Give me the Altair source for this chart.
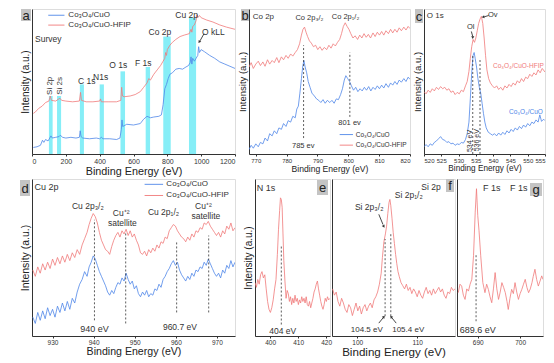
import altair as alt
import pandas as pd

BLUE = "#4f87e8"
RED = "#f07a7a"
INK = "#333333"
CYAN = "#86eef7"
GRAY = "#c4c4c4"
FONT = "Liberation Sans"

# ---------------- panel a : survey (eV, intensity 0-100) ----------------
A_BLUE = [(8,4.5),(30,5),(50,6),(62,9.5),(70,8),(80,10),(95,9),(105,11),(112,12.5),(120,11),
          (140,11.5),(160,12),(168,13),(180,11.5),(200,11),(230,11.5),(260,11),(280,11.5),(285,16),(290,12),
          (300,11),(340,10.5),(380,11),(400,10.5),(410,11.5),(420,10.5),(460,10.5),(500,10),(520,11),(528,17),
          (532,23.5),(536,19),(545,19.5),(560,20.5),(600,20),(640,21),(660,24),(680,26),(700,25),(720,25.5),
          (750,26),(765,27),(775,34),(785,45),(795,48),(805,52),(815,55),(830,56),(850,58.5),(870,59),
          (890,58.5),(910,60),(925,61),(935,63),(940,67),(945,62),(950,66),(960,64),(970,66),(980,68),
          (985,74),(990,70),(1000,72),(1020,70.5),(1050,68),(1080,66),(1110,63.5),(1140,62),(1170,60.5),(1200,59)]
A_RED = [(8,28),(20,29),(40,31.5),(60,33),(80,35.5),(100,36.5),(108,40),(115,37),(140,36.5),(165,38.5),
         (175,37),(200,36.5),(240,36),(280,36.5),(287,42.5),(292,37),(320,36),(360,36),(400,36.5),(405,38),
         (410,36),(450,36),(500,36),(525,37),(530,46),(535,40),(545,39.5),(580,40),(610,41),(640,43),
         (660,46),(680,49),(690,52),(700,51),(720,55),(740,58),(760,61),(775,64),(785,66),(790,70),
         (795,68),(800,72),(815,75),(830,77),(850,79),(875,81),(900,82),(930,83),(940,86),(945,84),
         (950,88),(960,89),(970,92),(975,96),(980,94),(990,95.5),(1000,94),(1030,92.5),(1070,91),(1110,89),
         (1150,87.5),(1200,86)]
A_BANDS = [(100,122,40),(148,172,40),(283,307,48),(400,425,48),(523,550,57),(672,698,60),(776,820,81),(928,970,94)]
A_LABELS = [("Si 2p",106,47,8,INK,270),("Si 2s",163,47,8,INK,270),("C 1s",323,50.3,8.5,INK,0),
            ("N1s",406,53,8.5,INK,0),("O 1s",510,61.4,8.5,INK,0),("F 1s",658,62.6,8.5,INK,0),
            ("Co 2p",756,84.1,8.5,INK,0),("Cu 2p",914,95.7,8.5,INK,0),("O kLL",1072,84.1,8.5,INK,0)]
A_LEFT = [("Survey",18,79,8.5,INK,0),("Co₃O₄/CuO",215,95.7,8,INK,0),("Co₃O₄/CuO-HFIP",215,88.9,8,INK,0)]
A_SEGS = [(96,95.7,192,95.7,BLUE),(96,88.9,192,88.9,RED),(1017,83,993,78,INK)]
A_HEADS = [(990,77.5,215)]

# ---------------- panel b : Co 2p ----------------
B_RED = [(767.8,60),(768.5,63),(769.2,59),(770,62),(770.8,64),(771.5,61),(772.3,63.5),(773,60.5),(773.8,65),(774.5,62),
         (775.3,64.5),(776,63),(776.8,66.5),(777.5,63),(778.3,67),(779,65),(779.8,68),(780.5,66),(781.3,69),(782,67.5),
         (782.8,70),(783.5,72),(784.2,76),(784.8,82),(785.3,86),(785.8,87.5),(786.3,84),(786.8,81),(787.4,78),(788,76.5),
         (788.7,74),(789.4,75),(790.1,72),(790.8,74),(791.5,71.5),(792.2,73.5),(793,72),(793.7,75),(794.4,73),(795.1,76),
         (795.8,74.5),(796.5,77),(797.2,79),(797.8,83),(798.4,88),(799,90.5),(799.6,88),(800.2,86),(800.8,83),(801.5,80),
         (802.2,81.5),(803,79),(803.7,82),(804.4,80),(805.1,83),(805.8,80.5),(806.5,82.5),(807.2,80),(808,83.5),(808.7,81),
         (809.4,84),(810.1,82),(810.8,84.5),(811.5,82),(812.2,85),(813,83),(813.7,86),(814.4,83.5),(815.1,86),(815.8,84),
         (816.5,87),(817.2,85),(818,87.5),(818.7,85.5),(819.4,88),(820,86.5)]
B_BLUE = [(767.8,3),(768.5,6),(769.2,4),(770,7),(770.8,5),(771.5,8),(772.3,7),(773,11),(773.8,9),(774.5,14),
          (775.3,12.5),(776,16),(776.8,14),(777.5,18),(778.3,17),(779,21),(779.8,19),(780.5,23),(781.3,22),(782,26),
          (782.8,25),(783.3,31),(783.8,33),(784.3,42),(784.8,52),(785.2,60),(785.6,64.5),(786,60),(786.5,56),(787,50),
          (787.6,46),(788.2,42),(789,40),(789.7,38),(790.4,37),(791.1,35.5),(791.8,37.5),(792.5,35),(793.2,37),(794,35.5),
          (794.7,37),(795.4,35),(796.1,38),(796.8,37.5),(797.5,41),(798.1,45),(798.7,51),(799.2,54),(799.8,52),(800.4,50),
          (801,47),(801.7,44),(802.4,46),(803.1,43),(803.8,45),(804.5,43.5),(805.2,46),(805.9,44),(806.6,46.5),(807.3,43.5),
          (808,46),(808.7,44.5),(809.4,47),(810.1,45),(810.8,47.5),(811.5,45.5),(812.2,48.5),(813,46),(813.7,49),(814.4,47.5),
          (815.1,50),(815.8,48),(816.5,51),(817.2,49.5),(818,52),(818.7,50),(819.4,53),(820,51.5)]
B_LABELS = [("Co 2p₃/₂",787.4,93.9,7.5,INK,0),("Co 2p₁/₂",799.1,94.6,7.5,INK,0),
            ("785 ev",785.4,5.4,7.5,INK,0),("801 ev",800.4,21.3,7.5,INK,0)]
B_LEFT = [("Co 2p",769,94.6,8,INK,0),("Co₃O₄/CuO",802.4,13.4,6.5,INK,0),("Co₃O₄/CuO-HFIP",802.4,6.1,6.5,INK,0)]
B_SEGS = [(797.2,13.4,801.5,13.4,BLUE),(797.2,6.1,801.5,6.1,RED)]
B_DASH = [(785.5,11,75),(800.5,25.6,70)]

# ---------------- panel c : O 1s ----------------
C_RED = [(520,43),(520.6,41.5),(521.2,44),(521.8,42.5),(522.4,45),(523,43.5),(523.6,46),(524.2,44.5),(524.8,46.5),(525.4,45),
         (526,46),(526.6,44),(527.2,45),(527.8,42.5),(528.4,43.5),(529,41),(529.6,42.5),(530.2,41.5),(530.8,44),(531.4,43),
         (532,47),(532.5,50),(533,57),(533.4,66),(533.8,74),(534.2,79),(534.6,77),(535,80),(535.4,85),(535.8,90),
         (536.2,93),(536.6,95),(537,90),(537.4,80),(537.8,68),(538.2,58),(538.7,52),(539.2,49),(539.8,47),(540.4,45.5),
         (541,47),(541.6,44.5),(542.2,46),(542.8,44),(543.4,47),(544,45.5),(544.6,48),(545.2,46.5),(545.8,49),(546.4,47.5),
         (547,50.5),(547.6,49),(548.2,52),(548.8,50),(549.4,53),(550,52),(550.6,55),(551.2,53.5),(551.8,56),(552.4,54.5),
         (553,58),(553.6,56),(554.2,59),(555,56.5)]
C_BLUE = [(520,5),(520.6,6.5),(521.2,5),(521.8,7),(522.4,6),(523,8),(523.6,9),(524.2,10.5),(524.8,12),(525.4,10),
          (526,9.5),(526.6,8),(527.2,8.5),(527.8,7),(528.4,7.5),(529,6),(529.6,7),(530.2,6.5),(530.8,8),(531.4,7.5),
          (532,10),(532.5,14),(533,22),(533.4,38),(533.8,56),(534.2,68),(534.5,70),(534.8,66),(535.2,60),(535.6,52),
          (536,46),(536.4,42),(536.8,35),(537.2,28),(537.6,22),(538,18),(538.6,15),(539.2,14),(539.8,13),(540.4,14),
          (541,12.5),(541.6,14.5),(542.2,13),(542.8,15),(543.4,13.5),(544,16),(544.6,14.5),(545.2,17),(545.8,15.5),(546.4,18),
          (547,16.5),(547.6,19),(548.2,17.5),(548.8,20),(549.4,18.5),(550,21),(550.6,19.5),(551.2,22),(551.8,21),(552.4,23.5),
          (553,22),(553.5,27),(554,22.5),(554.6,24),(555,23)]
C_LABELS = [("Ol",533.5,87.8,7.5,INK,0),("Ov",539.9,96,7.5,INK,0),
            ("Co₃O₄/CuO-HFIP",547.3,61,6.5,RED,0),("Co₃O₄/CuO",549.5,29,6.5,BLUE,0),
            ("534 eV",533.3,9,7,INK,270),("536 eV",535.4,9.5,7,INK,270)]
C_LEFT = [("O 1s",520.8,95,8,INK,0)]
C_DASH = [(534.1,0,68),(536.2,0,65)]
C_SEGS = [(533.7,84.5,534.1,81,INK),(538.7,95.5,537.4,94.6,INK)]
C_HEADS = [(534.1,80.5,180),(537.2,94.5,260)]

# ---------------- panel d : Cu 2p ----------------
D_RED = [(925.2,42),(925.8,38),(926.4,44),(927,40),(927.6,46),(928.2,42),(928.8,47),(929.4,43),(930,49),(930.6,45),
         (931.2,50),(931.8,46),(932.4,51),(933,47),(933.6,52),(934.2,48),(934.8,53),(935.4,50),(936,55),(936.6,52),
         (937.2,58),(937.8,62),(938.4,66),(938.9,71),(939.4,75),(939.9,78),(940.4,76),(940.9,72),(941.4,66),(941.9,61),
         (942.4,58),(942.9,55),(943.4,54),(943.9,52),(944.4,57),(944.9,61),(945.4,64),(945.9,66),(946.4,63),(946.9,67),
         (947.4,65),(947.9,68),(948.4,64),(948.9,67),(949.4,63),(949.9,65),(950.4,61),(950.9,58),(951.4,53),(951.9,52),
         (952.4,54),(952.9,51),(953.4,55),(953.9,53),(954.4,56),(954.9,54),(955.4,58),(955.9,56),(956.4,60),(956.9,59),
         (957.4,63),(957.9,62),(958.4,67),(958.9,69),(959.4,71),(959.9,70),(960.4,67),(960.9,65),(961.4,63),(961.9,62),
         (962.4,60),(962.9,63),(963.4,61),(963.9,65),(964.4,63),(964.9,67),(965.4,66),(965.9,69),(966.4,68),(966.9,72),
         (967.4,71),(967.9,73),(968.4,70),(968.9,68),(969.4,66),(969.9,64),(970.4,66),(970.9,63),(971.4,67),(971.9,65),
         (972.4,70),(972.9,68),(973.4,72),(973.9,67),(974.4,69)]
D_BLUE = [(925.2,12),(925.8,8),(926.4,15),(927,10),(927.6,16),(928.2,11),(928.8,18),(929.4,13),(930,17),(930.6,12),
          (931.2,19),(931.8,15),(932.4,21),(933,16),(933.6,22),(934.2,17),(934.8,24),(935.4,21),(936,28),(936.6,33),
          (937.2,36),(937.8,41),(938.4,38),(938.9,44),(939.4,47),(939.9,51),(940.4,49),(940.9,45),(941.4,41),(941.9,38),
          (942.4,35),(942.9,32),(943.4,28),(943.9,26),(944.4,29),(944.9,27),(945.4,31),(945.9,34),(946.4,33),(946.9,37),
          (947.4,35),(947.9,40),(948.4,36),(948.9,33),(949.4,35),(949.9,30),(950.4,32),(950.9,27),(951.4,25),(951.9,28),
          (952.4,26),(952.9,29),(953.4,25),(953.9,27),(954.4,26),(954.9,30),(955.4,29),(955.9,33),(956.4,31),(956.9,36),
          (957.4,38),(957.9,41),(958.4,43),(958.9,46),(959.4,48),(959.9,45),(960.4,47),(960.9,42),(961.4,39),(961.9,37),
          (962.4,35),(962.9,38),(963.4,36),(963.9,40),(964.4,38),(964.9,42),(965.4,41),(965.9,44),(966.4,43),(966.9,47),
          (967.4,45),(967.9,49),(968.4,46),(968.9,43),(969.4,40),(969.9,38),(970.4,40),(970.9,37),(971.4,42),(971.9,40),
          (972.4,45),(972.9,43),(973.4,48),(973.9,44),(974.4,47)]
D_LABELS = [("Cu 2p₃/₂",938.6,82.5,8.5,INK,0),("Cu⁺²",946.7,78.2,8.5,INK,0),("satellite",947,71.8,8.5,INK,0),
            ("Cu 2p₁/₂",957,78.8,8.5,INK,0),("Cu⁺²",966.7,83.1,8.5,INK,0),("satellite",967.3,76.7,8.5,INK,0),
            ("940 eV",940.2,4.5,9,INK,0),("960.7 eV",961,5.8,8.5,INK,0)]
D_LEFT = [("Cu 2p",925.6,94.9,9,INK,0),("Co₃O₄/CuO",957.7,96.6,8,INK,0),("Co₃O₄/CuO-HFIP",957.7,89.5,8,INK,0)]
D_SEGS = [(952.4,96.6,956.9,96.6,BLUE),(952.4,89.5,956.9,89.5,RED)]
D_DASH = [(940.2,10,74),(947.8,8,66),(960.2,15,60),(968,15,64)]

# ---------------- panel e : N 1s ----------------
E_RED = [(394.6,34),(395.1,31),(395.6,36),(396.1,33),(396.6,39),(397.1,41),(397.6,37),(398.1,39),(398.6,30),(399.1,22),
         (399.6,17),(400.1,15),(400.6,18),(401.1,23),(401.6,30),(402.1,36),(402.6,52),(403,68),(403.4,80),(403.7,88),
         (404,87),(404.3,82),(404.6,65),(404.9,48),(405.3,35),(405.7,24),(406.1,29),(406.5,27),(406.9,22),(407.3,25),
         (407.7,20),(408.1,24),(408.5,21),(408.9,26),(409.3,22),(409.7,24),(410.1,20),(410.5,23),(410.9,21),(411.3,25),
         (411.7,22),(412.1,24),(412.5,21),(412.9,25),(413.3,20),(413.7,19),(414.1,22),(414.5,18),(414.9,21),(415.3,24),
         (415.7,28),(416.1,30),(416.5,33),(416.9,35),(417.3,30),(417.7,26),(418.1,22),(418.5,19),(418.9,17),(419.3,20),
         (419.7,24),(420.1,22),(420.5,25),(420.9,23),(421.4,24)]
E_LABELS = [("404 eV",404.5,3.5,8.5,INK,0)]
E_LEFT = [("N 1s",395.2,94.5,9,INK,0)]
E_DASH = [(404,7.3,57.5)]

# ---------------- panel f : Si 2p ----------------
F_RED = [(95.9,30),(96.2,26),(96.5,28),(96.8,22),(97.1,19),(97.4,24),(97.7,21),(98,17),(98.3,15),(98.6,20),
         (98.9,18),(99.2,13),(99.5,17),(99.8,21),(100.1,16),(100.4,19),(100.7,14),(101,18),(101.3,20),(101.6,16),
         (101.9,19),(102.2,21),(102.5,18),(102.8,23),(103.1,25),(103.4,28),(103.7,33),(104,40),(104.2,50),(104.45,60),
         (104.7,65),(104.9,70),(105.1,78),(105.3,85),(105.45,87),(105.6,83),(105.8,75),(106,66),(106.2,59),(106.4,52),
         (106.6,46),(106.8,41),(107,38),(107.3,34),(107.6,32),(107.9,30),(108.2,33),(108.5,29),(108.8,31),(109.1,27),
         (109.4,30),(109.7,28),(110,25),(110.3,29),(110.6,26),(110.9,24),(111.2,28),(111.5,31),(111.8,27),(112.1,29),
         (112.4,26),(112.7,30),(113,27),(113.3,29),(113.6,31),(113.9,28),(114.2,30),(114.5,26),(114.8,24),(115.1,28),
         (115.4,27),(115.7,31),(116,29),(116.3,30)]
F_LABELS = [("104.5 eV",101.6,4.1,8,INK,0),("105.4 eV",108.5,4.1,8,INK,0),("Si 2p₃/₂",102,82,8.5,INK,0),
            ("Si 2p₁/₂",108.6,89.5,8.5,INK,0),("Si 2p",112.3,95,8.5,INK,0)]
F_DASH = [(104.65,12.6,61.8),(105.6,12.6,66)]
F_SEGS = [(103.6,77.5,104.3,71,INK),(103.6,8.2,104.3,11.5,INK),(106.5,8.2,105.8,11.5,INK)]
F_HEADS = [(104.4,70,150),(104.4,12,40),(105.7,12,320)]

# ---------------- panel g : F 1s ----------------
G_RED = [(685.4,27.6),(685.8,33),(686.2,31.8),(686.6,26),(687,23.3),(687.4,30),(687.8,28.6),(688.2,33),(688.6,36.1),
         (689,51.1),(689.4,78.9),(689.7,93.8),(690,76.7),(690.3,67.1),(690.7,51.1),(691.2,34),(691.7,27.6),(692.1,33),
         (692.5,29.7),(692.9,25),(693.3,21.2),(693.7,30),(694.1,40.4),(694.5,30),(694.9,23.3),(695.3,28),(695.7,34),
         (696.1,31),(696.5,27.6),(696.9,22),(697.2,16.9),(697.6,24),(698,29.7),(698.4,27),(698.8,34),(699.2,28),
         (699.6,23.3),(700,27),(700.4,29.7),(700.8,33),(701.2,36.1),(701.6,31),(702,27.6),(702.4,30),(702.8,34),
         (703.1,38),(703.5,42.5),(703.9,36),(704.3,31.8),(704.7,35),(705.1,38.3),(705.4,36)]
G_LABELS = [("689.6 eV",690,4.1,9,INK,0),("F 1s",693.3,94.2,9,INK,0),("F 1s",699.7,94.2,9,INK,0)]
G_DASH = [(689.6,9.4,52)]

ONE = pd.DataFrame({"k": [0]})


def xenc(dom, ticks, title, tfs, lfs=6.5):
    ax = dict(values=ticks, format="d", labelFontSize=lfs, tickSize=2, labelPadding=1,
              titlePadding=1, grid=False, domainColor=INK, tickColor=INK, labelColor=INK,
              titleColor="#222222", titleFontWeight="normal", titleFontSize=tfs)
    ax["title"] = title
    return alt.X("x:Q", scale=alt.Scale(domain=dom, nice=False, zero=False), axis=alt.Axis(**ax))


def yenc(title, tfs=10):
    return alt.Y("y:Q", scale=alt.Scale(domain=[0, 100], nice=False, zero=False),
                 axis=alt.Axis(labels=False, ticks=False, grid=False, title=title, titleFontSize=tfs,
                               titlePadding=2, domainColor=INK, titleColor="#222222",
                               titleFontWeight="normal"))


def curve(pts, color, X, Y):
    df = pd.DataFrame(pts, columns=["x", "y"])
    return alt.Chart(df).mark_line(color=color, strokeWidth=0.8, clip=True).encode(x=X, y=Y)


def dashes(rows, X, Y):
    df = pd.DataFrame(rows, columns=["x", "y", "y2"])
    return alt.Chart(df).mark_rule(color=INK, strokeDash=[2, 2], strokeWidth=0.8).encode(
        x=X, y=Y, y2="y2:Q")


def texts(rows, X, Y, align="center"):
    df = pd.DataFrame(rows, columns=["t", "x", "y", "s", "c", "a"])
    return alt.Chart(df).mark_text(align=align, baseline="middle", font=FONT).encode(
        x=X, y=Y, text="t:N", size=alt.Size("s:Q", scale=None),
        color=alt.Color("c:N", scale=None), angle=alt.Angle("a:Q", scale=None))


def segs(rows, X, Y):
    df = pd.DataFrame(rows, columns=["x", "y", "x2", "y2", "c"])
    return alt.Chart(df).mark_rule(strokeWidth=0.9).encode(
        x=X, y=Y, x2="x2:Q", y2="y2:Q", color=alt.Color("c:N", scale=None))


def heads(rows, X, Y):
    df = pd.DataFrame(rows, columns=["x", "y", "a"])
    return alt.Chart(df).mark_point(shape="triangle", filled=True, size=10, color=INK, opacity=1).encode(
        x=X, y=Y, angle=alt.Angle("a:Q", scale=None))


def bands(rows, X, Y):
    df = pd.DataFrame(rows, columns=["x", "x2", "y2"])
    df["y"] = 0
    return alt.Chart(df).mark_rect(color=CYAN).encode(x=X, x2="x2:Q", y=Y, y2="y2:Q")


def tag(letter, x0, x1, y0, y1):
    box = alt.Chart(ONE).mark_rect(color=GRAY).encode(
        x=alt.value(x0), x2=alt.value(x1), y=alt.value(y0), y2=alt.value(y1))
    txt = alt.Chart(ONE).mark_text(text=letter, fontSize=13, font=FONT, color="#222222",
                                   align="center", baseline="middle").encode(
        x=alt.value((x0 + x1) / 2), y=alt.value((y0 + y1) / 2 + 0.5))
    return [box, txt]


TOP_H = 145
BOT_H = 157

# panel a
Xa = xenc([0, 1200], [0, 200, 400, 600, 800, 1000, 1200], "Binding Energy (eV)", 10.8, 7)
Ya = yenc("Intensity (a.u.)", 10)
pa = alt.layer(
    bands(A_BANDS, Xa, Ya), curve(A_BLUE, BLUE, Xa, Ya), curve(A_RED, RED, Xa, Ya),
    segs(A_SEGS, Xa, Ya), heads(A_HEADS, Xa, Ya),
    texts(A_LABELS, Xa, Ya), texts(A_LEFT, Xa, Ya, "left"),
    *tag("a", -11, -1, 0, 12)
).properties(width=203, height=TOP_H)

# panel b
Xb = xenc([767.8, 820], [770, 780, 790, 800, 810, 820], "Binding Energy (eV)", 8.6, 6)
Yb = yenc("Intensity (a.u.)", 9.5)
pb = alt.layer(
    curve(B_RED, RED, Xb, Yb), curve(B_BLUE, BLUE, Xb, Yb), dashes(B_DASH, Xb, Yb),
    segs(B_SEGS, Xb, Yb), texts(B_LABELS, Xb, Yb), texts(B_LEFT, Xb, Yb, "left"),
    *tag("b", -8, 0, 0, 12)
).properties(width=161, height=TOP_H)

# panel c
Xc = xenc([520, 555], [520, 525, 530, 535, 540, 545, 550, 555], "Binding Energy (eV)", 8.2, 6)
Yc = yenc("Intensity (a.u.)", 9.5)
pc = alt.layer(
    curve(C_RED, RED, Xc, Yc), curve(C_BLUE, BLUE, Xc, Yc), dashes(C_DASH, Xc, Yc),
    segs(C_SEGS, Xc, Yc), heads(C_HEADS, Xc, Yc),
    texts(C_LABELS, Xc, Yc), texts(C_LEFT, Xc, Yc, "left"),
    *tag("c", -9, -1, 0, 14)
).properties(width=121, height=TOP_H)

# panel d
Xd = xenc([925, 974.4], [930, 940, 950, 960, 970], "Binding Energy (eV)", 10.6, 6.5)
Yd = yenc("Intensity (a.u.)", 10.5)
pd_ = alt.layer(
    curve(D_RED, RED, Xd, Yd), curve(D_BLUE, BLUE, Xd, Yd), dashes(D_DASH, Xd, Yd),
    segs(D_SEGS, Xd, Yd), texts(D_LABELS, Xd, Yd), texts(D_LEFT, Xd, Yd, "left"),
    *tag("d", -12, -2, 1, 17)
).properties(width=203, height=BOT_H)

# panel e
Xe = xenc([394.6, 421.4], [400, 410, 420], None, 11, 6.5)
Ye = yenc("Intensity (a.u.)", 10)
pe = alt.layer(
    curve(E_RED, RED, Xe, Ye), dashes(E_DASH, Xe, Ye),
    texts(E_LABELS, Xe, Ye), texts(E_LEFT, Xe, Ye, "left"),
    *tag("e", 62, 73, 1, 16)
).properties(width=75, height=BOT_H)

# panel f
Xf = xenc([95.8, 116.3], [100, 110], "Binding Energy (eV)", 11.6, 6.5)
Yf = yenc(None)
pf = alt.layer(
    curve(F_RED, RED, Xf, Yf), dashes(F_DASH, Xf, Yf), segs(F_SEGS, Xf, Yf), heads(F_HEADS, Xf, Yf),
    texts(F_LABELS, Xf, Yf),
    *tag("f", 114, 122, 0, 13)
).properties(width=123, height=BOT_H)

# panel g
Xg = xenc([685.1, 705.4], [690, 700], None, 11, 6.5)
Yg = yenc(None)
pg = alt.layer(
    curve(G_RED, RED, Xg, Yg), dashes(G_DASH, Xg, Yg), texts(G_LABELS, Xg, Yg),
    *tag("g", 73, 85, 4, 17)
).properties(width=86, height=BOT_H)

top = alt.hconcat(pa, pb, pc, spacing=14, bounds="flush")
right = alt.hconcat(pe, pf, pg, spacing=2, bounds="flush")
bottom = alt.hconcat(pd_, right, spacing=20, bounds="flush")

chart = alt.vconcat(top, bottom, spacing=1).properties(
    padding={"left": 11, "top": 0, "right": 0, "bottom": 0}
).configure_view(stroke=INK, strokeWidth=1).configure_axis(
    labelFont=FONT, titleFont=FONT
).configure_text(font=FONT).configure(background="white")

chart.save("out.html", embed_options={"renderer": "svg", "actions": False})
